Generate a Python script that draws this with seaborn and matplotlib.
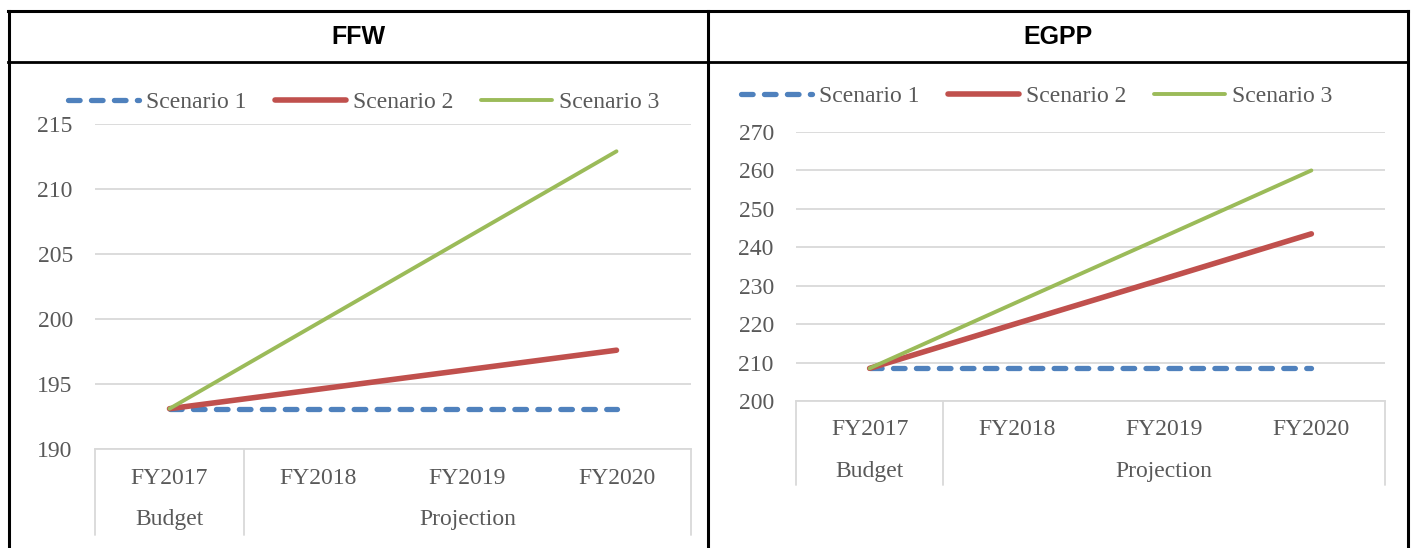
import matplotlib
matplotlib.use("Agg")
import matplotlib.pyplot as plt
from matplotlib.lines import Line2D
import numpy as np
import pandas as pd
import seaborn as sns

# ---------------- data ----------------
years = ["FY2017", "FY2018", "FY2019", "FY2020"]
groups = ["Budget", "Projection"]
group_spans = [(0, 0), (1, 3)]
scenarios = ["Scenario 1", "Scenario 2", "Scenario 3"]

ffw_s1 = [193.1, 193.1, 193.1, 193.1]
ffw_s2 = [193.1, 194.6, 196.1, 197.6]
ffw_s3 = [193.1, 199.7, 206.3, 212.9]

egpp_s1 = [208.5, 208.5, 208.5, 208.5]
egpp_s2 = [208.5, 220.2, 231.8, 243.5]
egpp_s3 = [208.5, 225.7, 242.8, 260.0]

ffw_ticks = [190, 195, 200, 205, 210, 215]
egpp_ticks = [200, 210, 220, 230, 240, 250, 260, 270]

# ---------------- style ----------------
sns.set_theme(style="white")
plt.rcParams["font.family"] = ["Liberation Serif", "DejaVu Serif"]
TXT = "#595959"
GRID = "#D9D9D9"
colors = {"Scenario 1": "#4F81BD", "Scenario 2": "#C0504D", "Scenario 3": "#9BBB59"}
widths = {"Scenario 1": 3.8, "Scenario 2": 4.0, "Scenario 3": 2.8}
styles = {"Scenario 1": (0, (2.2, 2.15)), "Scenario 2": "-", "Scenario 3": "-"}

W, H = 1413, 548
fig = plt.figure(figsize=(W / 100, H / 100), dpi=100)


def fx(px):
    return px / W


def fy(py):
    return 1 - py / H


def make_df(s1, s2, s3):
    rows = []
    for name, vals in zip(scenarios, [s1, s2, s3]):
        for i, v in enumerate(vals):
            rows.append({"x": i, "Year": years[i], "Scenario": name, "Value": v})
    return pd.DataFrame(rows)


def panel(rect_px, df, ticks, legend_px, box_depth_px, fy_off, grp_off):
    l, t, r, b = rect_px
    ax = fig.add_axes([fx(l), fy(b), fx(r - l), (b - t) / H])
    for name in scenarios:
        sub = df[df["Scenario"] == name]
        sns.lineplot(data=sub, x="x", y="Value", ax=ax, color=colors[name],
                     linewidth=widths[name], linestyle=styles[name],
                     dash_capstyle="round", solid_capstyle="round",
                     label=name, legend=False, zorder=3)
    ax.set_xlim(-0.5, len(years) - 0.5)
    ax.set_ylim(ticks[0], ticks[-1])
    ax.set_yticks(ticks)
    ax.set_yticklabels([str(t) for t in ticks], fontsize=17, color=TXT)
    ax.tick_params(axis="y", length=0, pad=16)
    ax.set_xticks(range(len(years)))
    ax.set_xticklabels(years, fontsize=17, color=TXT)
    ax.tick_params(axis="x", length=0, pad=fy_off)
    ax.set_xlabel("")
    ax.set_ylabel("")
    ax.grid(axis="y", color=GRID, linewidth=1.3)
    ax.grid(axis="x", visible=False)
    for s in ["top", "left", "right"]:
        ax.spines[s].set_visible(False)
    ax.spines["bottom"].set_color(GRID)
    ax.spines["bottom"].set_linewidth(1.3)
    ax.set_axisbelow(True)

    # category box separators
    trans = ax.get_xaxis_transform()
    depth = -box_depth_px / (b - t)
    seps = [-0.5] + [g[1] + 0.5 for g in group_spans]
    for sx in seps:
        ax.plot([sx, sx], [0, depth], transform=trans, color=GRID,
                linewidth=1.3, clip_on=False)
    for g, (a, z) in zip(groups, group_spans):
        ax.annotate(g, xy=((a + z) / 2, 0), xycoords=trans,
                    xytext=(0, -grp_off), textcoords="offset pixels",
                    ha="center", va="center", fontsize=17, color=TXT)

    handles = [Line2D([0], [0], color=colors[n], linewidth=widths[n],
                      linestyle=styles[n], dash_capstyle="round",
                      solid_capstyle="round") for n in scenarios]
    fig.legend(handles, scenarios, loc="center left",
               bbox_to_anchor=(fx(legend_px[0]), fy(legend_px[1])),
               ncol=3, frameon=False, fontsize=17, labelcolor=TXT,
               handlelength=3.0, handletextpad=0.3, columnspacing=1.2,
               borderpad=0, borderaxespad=0)
    return ax


panel((95, 124, 691, 449), make_df(ffw_s1, ffw_s2, ffw_s3), ffw_ticks,
      (68, 102), 86, 14, 71)
panel((796, 132, 1385, 401), make_df(egpp_s1, egpp_s2, egpp_s3), egpp_ticks,
      (741, 96), 84, 13, 70)

# table borders
def fline(x0, y0, x1, y1, lw=2.2):
    fig.add_artist(Line2D([fx(x0), fx(x1)], [fy(y0), fy(y1)],
                          transform=fig.transFigure, color="black",
                          linewidth=lw, solid_capstyle="projecting"))

fline(8, 11, 1408, 11)
fline(8, 62, 1408, 62, 2.0)
fline(9, 11, 9, 548)
fline(1408, 11, 1408, 548)
fline(708, 11, 708, 548)

fig.text(fx(358), fy(37), "FFW", ha="center", va="center", fontsize=18,
         fontweight="bold", family=["Liberation Sans", "DejaVu Sans"], color="black")
fig.text(fx(1058), fy(37), "EGPP", ha="center", va="center", fontsize=18,
         fontweight="bold", family=["Liberation Sans", "DejaVu Sans"], color="black")

fig.savefig("out.png", dpi=100, facecolor="white")
